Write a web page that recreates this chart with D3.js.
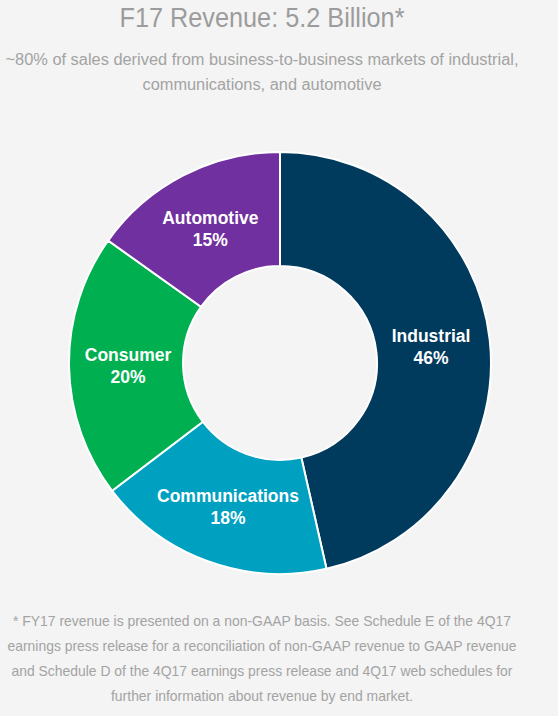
<!DOCTYPE html>
<html lang="en">
<head>
    <meta charset="UTF-8">
    <title>F17 Revenue</title>
    <style>
        body { margin: 0; background: #f4f4f4; }
        text { font-family: "Liberation Sans", Arial, sans-serif; }
        .note { fill: #a3a3a3; }
        .slice-label { fill: #fff; font-weight: bold; font-size: 17.5px; }
    </style>
</head>
<body>
<script src="https://d3js.org/d3.v7.min.js"></script>
<script>

    const width = 558;
    const height = 716;

    const markets = ['Industrial', 'Communications', 'Consumer', 'Automotive'];
    const shares = [46, 18, 20, 15];
    const colours = ['#003b5e', '#00a0c1', '#00b050', '#7030a0'];

    const title = 'F17 Revenue: 5.2 Billion*';
    const subtitle = [
        '~80% of sales derived from business-to-business markets of industrial,',
        'communications, and automotive'
    ];
    const subtitleWidths = [513, 239];
    const footnote = [
        '* FY17 revenue is presented on a non-GAAP basis. See Schedule E of the 4Q17',
        'earnings press release for a reconciliation of non-GAAP revenue to GAAP revenue',
        'and Schedule D of the 4Q17 earnings press release and 4Q17 web schedules for',
        'further information about revenue by end market.'
    ];
    const footnoteWidths = [498, 509, 501, 302];

    const textX = 262;
    const cx = 280, cy = 363;
    const outer = 211, inner = 97, labelR = 152;

    let svg = d3.select('body').append('svg')
        .attr('width', width)
        .attr('height', height);

    svg.append('text')
        .attr('x', textX).attr('y', 27)
        .attr('text-anchor', 'middle')
        .attr('textLength', 285)
        .attr('lengthAdjust', 'spacingAndGlyphs')
        .style('font-family', '"Liberation Sans Narrow", "Liberation Sans", sans-serif')
        .style('font-size', '28px')
        .style('fill', '#9c9c9c')
        .text(title);

    svg.append('g').selectAll('text')
        .data(subtitle)
        .enter().append('text')
        .attr('class', 'note')
        .attr('x', textX)
        .attr('y', function (d, i) { return 65 + i * 25; })
        .attr('text-anchor', 'middle')
        .attr('textLength', function (d, i) { return subtitleWidths[i]; })
        .attr('lengthAdjust', 'spacingAndGlyphs')
        .style('font-size', '16px')
        .text(function (d) { return d; });

    let pie = d3.pie().sort(null).value(function (d) { return d; });
    let arc = d3.arc().innerRadius(inner).outerRadius(outer);
    let labelArc = d3.arc().innerRadius(labelR).outerRadius(labelR);

    let g = svg.append('g')
        .attr('transform', 'translate(' + cx + ',' + cy + ')');

    let arcs = pie(shares);

    g.selectAll('path')
        .data(arcs)
        .enter().append('path')
        .attr('d', arc)
        .attr('fill', function (d, i) { return colours[i]; })
        .attr('stroke', '#fff')
        .attr('stroke-width', 2);

    let labels = g.selectAll('.slice-label')
        .data(arcs)
        .enter().append('text')
        .attr('class', 'slice-label')
        .attr('text-anchor', 'middle')
        .attr('transform', function (d) { return 'translate(' + labelArc.centroid(d) + ')'; });

    labels.append('tspan')
        .attr('x', 0).attr('y', -4)
        .text(function (d, i) { return markets[i]; });
    labels.append('tspan')
        .attr('x', 0).attr('y', 18)
        .text(function (d) { return d.value + '%'; });

    svg.append('g').selectAll('text')
        .data(footnote)
        .enter().append('text')
        .attr('class', 'note')
        .attr('x', textX)
        .attr('y', function (d, i) { return 626 + i * 25; })
        .attr('text-anchor', 'middle')
        .attr('textLength', function (d, i) { return footnoteWidths[i]; })
        .attr('lengthAdjust', 'spacingAndGlyphs')
        .style('font-size', '15px')
        .text(function (d) { return d; });

</script>
</body>
</html>
